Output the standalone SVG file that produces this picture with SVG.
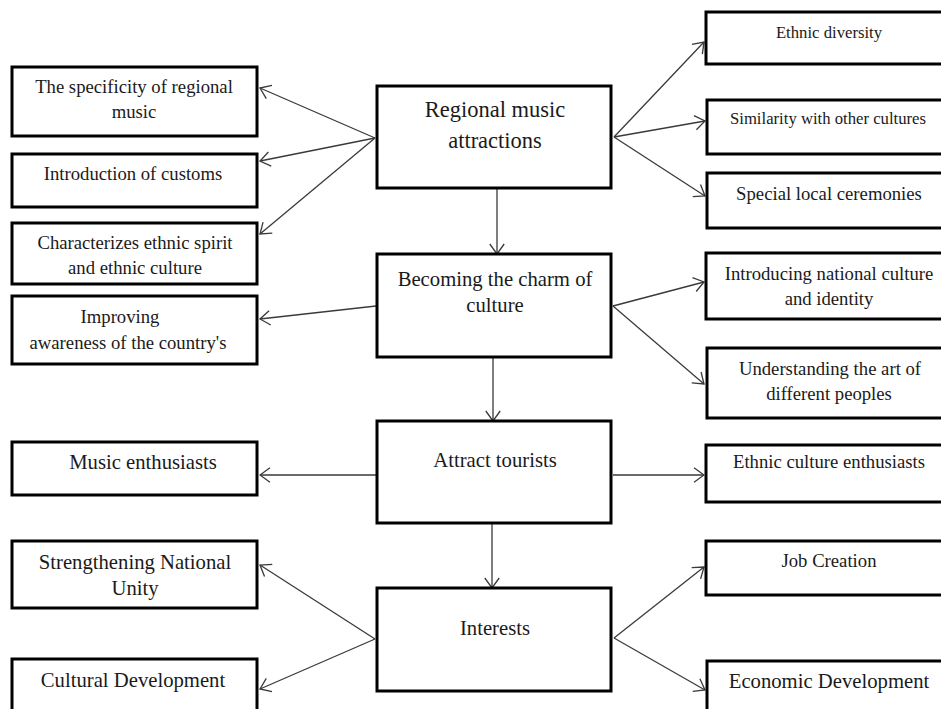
<svg xmlns="http://www.w3.org/2000/svg" width="941" height="709" viewBox="0 0 941 709">
<style>
.box{fill:#fff;stroke:#000;stroke-width:3}
.t{font-family:"Liberation Serif","Times New Roman",serif;fill:#1a1a1a;text-anchor:middle}
.s16{font-size:16.7px}.s18{font-size:18.7px}.s20{font-size:20.7px}.s22{font-size:22.5px}
.c{stroke:#3a3a3a;stroke-width:1.3;fill:none;marker-end:url(#ah)}
</style>
<defs>
<marker id="ah" markerUnits="userSpaceOnUse" viewBox="0 0 12 16" refX="11" refY="8" markerWidth="12" markerHeight="16" orient="auto">
<path d="M1,0.8 L11,8 L1,15.2" fill="none" stroke="#3a3a3a" stroke-width="1.3"/>
</marker>
</defs>
<g id="connectors">
<line class="c" x1="375" y1="138" x2="260" y2="88"/>
<line class="c" x1="375" y1="138" x2="260" y2="161"/>
<line class="c" x1="375" y1="138" x2="260" y2="234"/>
<line class="c" x1="614" y1="137" x2="704" y2="42"/>
<line class="c" x1="614" y1="137" x2="705" y2="121"/>
<line class="c" x1="614" y1="137" x2="705" y2="196"/>
<line class="c" x1="497" y1="188" x2="497" y2="254"/>
<line class="c" x1="376" y1="306" x2="260" y2="319"/>
<line class="c" x1="613" y1="306" x2="704" y2="282"/>
<line class="c" x1="613" y1="306" x2="704" y2="384"/>
<line class="c" x1="493" y1="357" x2="493" y2="421"/>
<line class="c" x1="376" y1="475" x2="260" y2="475"/>
<line class="c" x1="613" y1="475" x2="704" y2="475"/>
<line class="c" x1="492" y1="523" x2="492" y2="588"/>
<line class="c" x1="375" y1="639" x2="260" y2="565"/>
<line class="c" x1="375" y1="639" x2="260" y2="689"/>
<line class="c" x1="614" y1="638" x2="704" y2="567"/>
<line class="c" x1="614" y1="638" x2="705" y2="690"/>
</g>
<g id="n-regional">
<rect class="box" x="377" y="86" width="234" height="102"/>
<text class="t s22" x="495" y="117">Regional music</text>
<text class="t s22" x="495" y="148">attractions</text>
</g>
<g id="n-becoming">
<rect class="box" x="377" y="254" width="234" height="103"/>
<text class="t s20" x="495" y="286">Becoming the charm of</text>
<text class="t s20" x="495" y="312">culture</text>
</g>
<g id="n-attract">
<rect class="box" x="377" y="421" width="234" height="102"/>
<text class="t s20" x="495" y="467">Attract tourists</text>
</g>
<g id="n-interests">
<rect class="box" x="377" y="588" width="234" height="103"/>
<text class="t s20" x="495" y="635">Interests</text>
</g>
<g id="n-specificity">
<rect class="box" x="12" y="67" width="245" height="69"/>
<text class="t s18" x="134" y="93">The specificity of regional</text>
<text class="t s18" x="134" y="118">music</text>
</g>
<g id="n-customs">
<rect class="box" x="12" y="154" width="245" height="53"/>
<text class="t s18" x="133" y="180">Introduction of customs</text>
</g>
<g id="n-characterizes">
<rect class="box" x="12" y="223" width="245" height="61"/>
<text class="t s18" x="135" y="249">Characterizes ethnic spirit</text>
<text class="t s18" x="135" y="274">and ethnic culture</text>
</g>
<g id="n-improving">
<rect class="box" x="12" y="296" width="245" height="68"/>
<text class="t s18" x="120" y="323">Improving</text>
<text class="t s18" x="128" y="349">awareness of the country's</text>
</g>
<g id="n-music">
<rect class="box" x="12" y="442" width="245" height="53"/>
<text class="t s20" x="143" y="469">Music enthusiasts</text>
</g>
<g id="n-strengthening">
<rect class="box" x="12" y="541" width="245" height="67"/>
<text class="t s20" x="135" y="569">Strengthening National</text>
<text class="t s20" x="135" y="595">Unity</text>
</g>
<g id="n-cultural">
<rect class="box" x="12" y="659" width="245" height="60"/>
<text class="t s20" x="133" y="687">Cultural Development</text>
</g>
<g id="n-ethnic-diversity">
<rect class="box" x="706" y="12" width="240" height="52"/>
<text class="t s16" x="829" y="38">Ethnic diversity</text>
</g>
<g id="n-similarity">
<rect class="box" x="707" y="100" width="240" height="54"/>
<text class="t s16" x="828" y="124">Similarity with other cultures</text>
</g>
<g id="n-special">
<rect class="box" x="707" y="173" width="240" height="55"/>
<text class="t s18" x="829" y="200">Special local ceremonies</text>
</g>
<g id="n-introducing">
<rect class="box" x="706" y="253" width="240" height="66"/>
<text class="t s18" x="829" y="280">Introducing national culture</text>
<text class="t s18" x="829" y="305">and identity</text>
</g>
<g id="n-understanding">
<rect class="box" x="707" y="348" width="240" height="70"/>
<text class="t s18" x="830" y="375">Understanding the art of</text>
<text class="t s18" x="829" y="400">different peoples</text>
</g>
<g id="n-ethnic-culture">
<rect class="box" x="706" y="445" width="240" height="57"/>
<text class="t s18" x="829" y="468">Ethnic culture enthusiasts</text>
</g>
<g id="n-job">
<rect class="box" x="706" y="541" width="240" height="54"/>
<text class="t s18" x="829" y="567">Job Creation</text>
</g>
<g id="n-economic">
<rect class="box" x="707" y="661" width="240" height="60"/>
<text class="t s20" x="829" y="688">Economic Development</text>
</g>
</svg>
